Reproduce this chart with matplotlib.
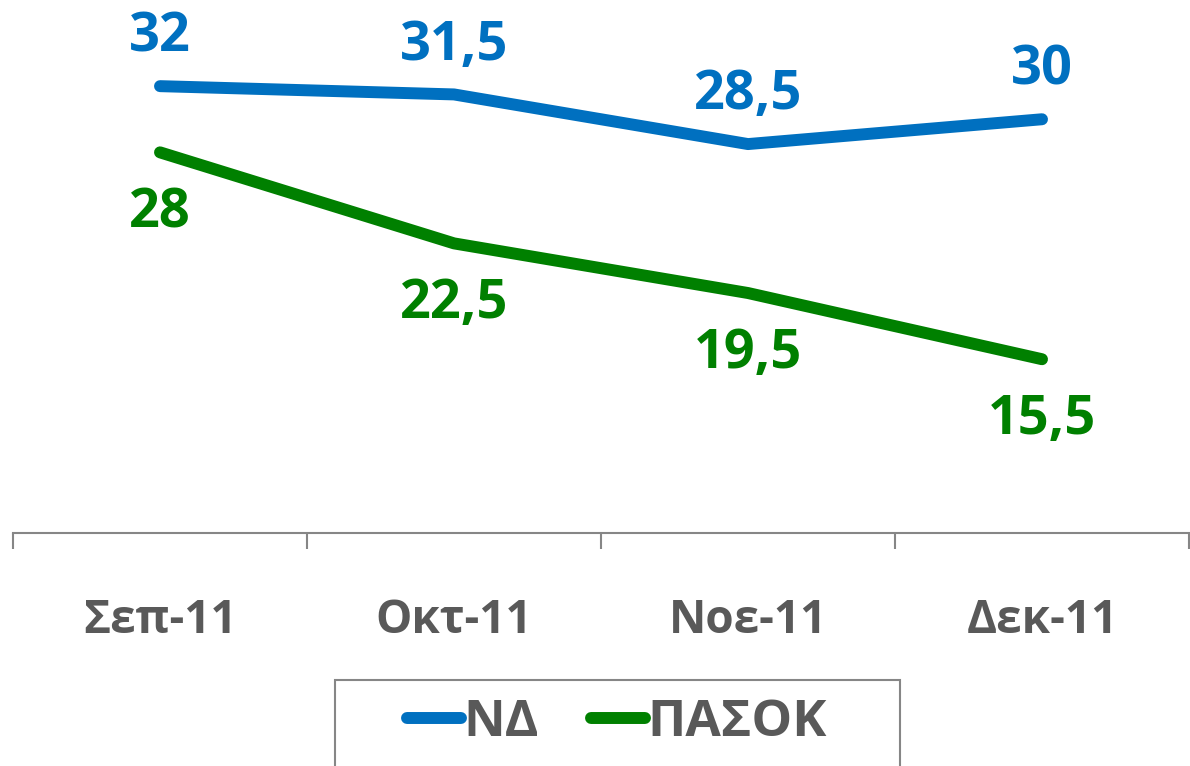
import matplotlib
matplotlib.use('Agg')
import matplotlib.pyplot as plt
from matplotlib.patches import Rectangle

plt.rcParams['font.family'] = ['Open Sans', 'DejaVu Sans']
plt.rcParams['font.weight'] = 'bold'

# data
months = ['Σεπ-11', 'Οκτ-11', 'Νοε-11', 'Δεκ-11']
nd = [32, 31.5, 28.5, 30]
pasok = [28, 22.5, 19.5, 15.5]
nd_labels = ['32', '31,5', '28,5', '30']
pasok_labels = ['28', '22,5', '19,5', '15,5']

blue = '#0070C0'
green = '#008000'
grey_text = '#595959'
grey_axis = '#868686'

W, H = 1190, 766
fig = plt.figure(figsize=(W / 100, H / 100), dpi=100)
# axes: x from 13 to 1189 px, y bottom at 533 px, 16.55 px per unit
ax_h = 32 * 16.55
ax = fig.add_axes([13 / W, 1 - 533 / H, 1176 / W, ax_h / H])

x = range(len(months))
ax.plot(x, nd, color=blue, lw=8.6, solid_capstyle='round', solid_joinstyle='round', label='ΝΔ')
ax.plot(x, pasok, color=green, lw=8.6, solid_capstyle='round', solid_joinstyle='round', label='ΠΑΣΟΚ')

for i, (v, s) in enumerate(zip(nd, nd_labels)):
    ax.annotate(s, (i, v), xytext=(0, 35), textcoords='offset points',
                ha='center', va='center', color=blue, fontsize=39, fontweight='bold')
for i, (v, s) in enumerate(zip(pasok, pasok_labels)):
    ax.annotate(s, (i, v), xytext=(0, -44), textcoords='offset points',
                ha='center', va='center', color=green, fontsize=39, fontweight='bold')

ax.set_xlim(-0.5, 3.5)
ax.set_ylim(5, 37)
ax.set_yticks([])
for sp in ['top', 'right', 'left']:
    ax.spines[sp].set_visible(False)
ax.spines['bottom'].set_color(grey_axis)
ax.spines['bottom'].set_linewidth(1.5)

ax.set_xticks(list(x))
ax.set_xticklabels(months, fontsize=33, fontweight='bold', color=grey_text)
ax.tick_params(axis='x', which='major', length=0, pad=46)
ax.set_xticks([-0.5, 0.5, 1.5, 2.5, 3.5], minor=True)
ax.tick_params(axis='x', which='minor', length=11.5, width=1.5, color=grey_axis)

# legend with separate frame
leg = fig.legend(loc='center', bbox_to_anchor=(617 / W, 1 - 723 / H), ncol=2,
                 frameon=False, fontsize=37, handlelength=1.05, handletextpad=0.05,
                 columnspacing=1.0)
for t in leg.get_texts():
    t.set_color(grey_text)
    t.set_fontweight('bold')
fig.patches.append(Rectangle((335 / W, 1 - 790 / H), 565 / W, 110 / H,
                             transform=fig.transFigure, fill=False,
                             edgecolor=grey_axis, linewidth=1.5))

fig.savefig('out.png', dpi=100)
